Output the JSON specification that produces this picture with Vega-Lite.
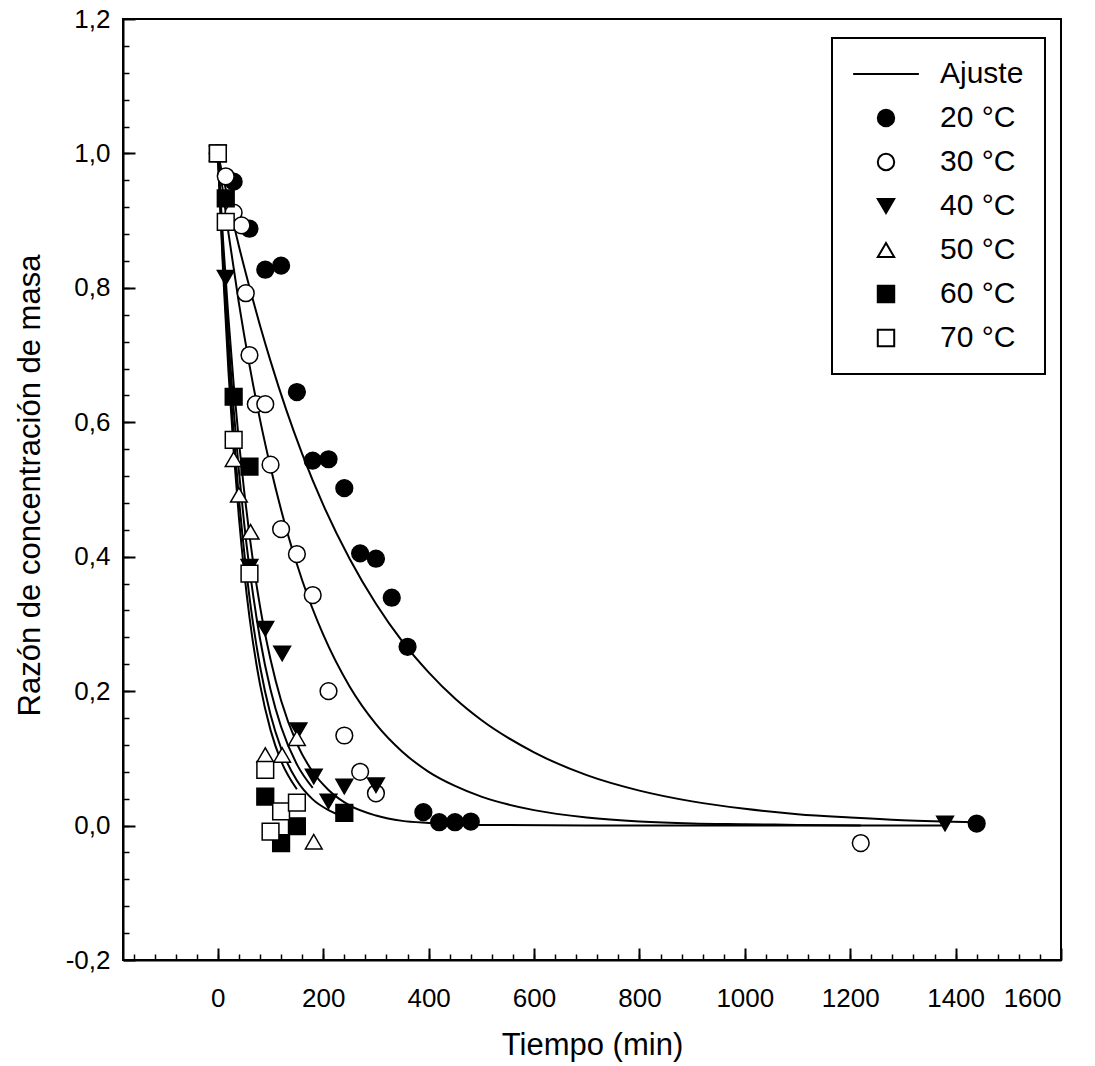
{
  "$schema": "https://vega.github.io/schema/vega-lite/v6.json",
  "width": 938,
  "height": 941,
  "autosize": {"type": "none"},
  "padding": {"left": 123, "top": 19, "right": 34, "bottom": 106},
  "background": "white",
  "config": {
    "locale": {"number": {"decimal": ",", "thousands": ".", "grouping": [3], "currency": ["", ""], "minus": "-"}},
    "view": {"stroke": "black", "strokeWidth": 2},
    "axis": {
      "labelFont": "Liberation Sans",
      "titleFont": "Liberation Sans",
      "labelFontSize": 26,
      "titleFontSize": 31,
      "titleFontWeight": "normal",
      "labelColor": "black",
      "titleColor": "black",
      "tickColor": "black",
      "domainColor": "black",
      "grid": false
    }
  },
  "datasets": {
    "curves": [
      {"curve": "20", "t": 0, "y": 1.0}, {"curve": "20", "t": 20, "y": 0.929}, {"curve": "20", "t": 40, "y": 0.862}, {"curve": "20", "t": 60, "y": 0.801}, {"curve": "20", "t": 80, "y": 0.744}, {"curve": "20", "t": 100, "y": 0.691}, {"curve": "20", "t": 130, "y": 0.618}, {"curve": "20", "t": 160, "y": 0.553}, {"curve": "20", "t": 200, "y": 0.477}, {"curve": "20", "t": 250, "y": 0.397}, {"curve": "20", "t": 300, "y": 0.33}, {"curve": "20", "t": 350, "y": 0.274}, {"curve": "20", "t": 400, "y": 0.228}, {"curve": "20", "t": 450, "y": 0.189}, {"curve": "20", "t": 500, "y": 0.157}, {"curve": "20", "t": 600, "y": 0.109}, {"curve": "20", "t": 700, "y": 0.075}, {"curve": "20", "t": 800, "y": 0.052}, {"curve": "20", "t": 900, "y": 0.036}, {"curve": "20", "t": 1000, "y": 0.025}, {"curve": "20", "t": 1100, "y": 0.017}, {"curve": "20", "t": 1200, "y": 0.012}, {"curve": "20", "t": 1300, "y": 0.008}, {"curve": "20", "t": 1440, "y": 0.005},
      {"curve": "30", "t": 0, "y": 1.0}, {"curve": "30", "t": 20, "y": 0.882}, {"curve": "30", "t": 40, "y": 0.777}, {"curve": "30", "t": 60, "y": 0.685}, {"curve": "30", "t": 80, "y": 0.604}, {"curve": "30", "t": 100, "y": 0.533}, {"curve": "30", "t": 130, "y": 0.441}, {"curve": "30", "t": 160, "y": 0.365}, {"curve": "30", "t": 200, "y": 0.284}, {"curve": "30", "t": 250, "y": 0.207}, {"curve": "30", "t": 300, "y": 0.151}, {"curve": "30", "t": 350, "y": 0.11}, {"curve": "30", "t": 400, "y": 0.08}, {"curve": "30", "t": 450, "y": 0.059}, {"curve": "30", "t": 500, "y": 0.043}, {"curve": "30", "t": 600, "y": 0.023}, {"curve": "30", "t": 700, "y": 0.012}, {"curve": "30", "t": 800, "y": 0.006}, {"curve": "30", "t": 900, "y": 0.003}, {"curve": "30", "t": 1000, "y": 0.002}, {"curve": "30", "t": 1100, "y": 0.001}, {"curve": "30", "t": 1220, "y": 0.0},
      {"curve": "40", "t": 0, "y": 1.0}, {"curve": "40", "t": 10, "y": 0.869}, {"curve": "40", "t": 20, "y": 0.756}, {"curve": "40", "t": 30, "y": 0.657}, {"curve": "40", "t": 40, "y": 0.571}, {"curve": "40", "t": 50, "y": 0.497}, {"curve": "40", "t": 60, "y": 0.432}, {"curve": "40", "t": 80, "y": 0.326}, {"curve": "40", "t": 100, "y": 0.247}, {"curve": "40", "t": 120, "y": 0.186}, {"curve": "40", "t": 150, "y": 0.122}, {"curve": "40", "t": 180, "y": 0.08}, {"curve": "40", "t": 210, "y": 0.053}, {"curve": "40", "t": 250, "y": 0.03}, {"curve": "40", "t": 300, "y": 0.015}, {"curve": "40", "t": 350, "y": 0.007}, {"curve": "40", "t": 400, "y": 0.004}, {"curve": "40", "t": 500, "y": 0.001}, {"curve": "40", "t": 700, "y": 0.0}, {"curve": "40", "t": 1000, "y": 0.0}, {"curve": "40", "t": 1380, "y": 0.0},
      {"curve": "50", "t": 0, "y": 1.0}, {"curve": "50", "t": 10, "y": 0.852}, {"curve": "50", "t": 20, "y": 0.726}, {"curve": "50", "t": 30, "y": 0.619}, {"curve": "50", "t": 40, "y": 0.527}, {"curve": "50", "t": 50, "y": 0.449}, {"curve": "50", "t": 60, "y": 0.383}, {"curve": "50", "t": 80, "y": 0.278}, {"curve": "50", "t": 100, "y": 0.202}, {"curve": "50", "t": 120, "y": 0.147}, {"curve": "50", "t": 150, "y": 0.091}, {"curve": "50", "t": 180, "y": 0.056},
      {"curve": "60", "t": 0, "y": 1.0}, {"curve": "60", "t": 10, "y": 0.835}, {"curve": "60", "t": 20, "y": 0.698}, {"curve": "60", "t": 30, "y": 0.583}, {"curve": "60", "t": 40, "y": 0.487}, {"curve": "60", "t": 50, "y": 0.407}, {"curve": "60", "t": 60, "y": 0.34}, {"curve": "60", "t": 80, "y": 0.237}, {"curve": "60", "t": 100, "y": 0.165}, {"curve": "60", "t": 120, "y": 0.115}, {"curve": "60", "t": 150, "y": 0.067}, {"curve": "60", "t": 180, "y": 0.039}, {"curve": "60", "t": 210, "y": 0.023}, {"curve": "60", "t": 240, "y": 0.013},
      {"curve": "70", "t": 0, "y": 1.0}, {"curve": "70", "t": 10, "y": 0.823}, {"curve": "70", "t": 20, "y": 0.677}, {"curve": "70", "t": 30, "y": 0.557}, {"curve": "70", "t": 40, "y": 0.458}, {"curve": "70", "t": 50, "y": 0.377}, {"curve": "70", "t": 60, "y": 0.31}, {"curve": "70", "t": 80, "y": 0.21}, {"curve": "70", "t": 100, "y": 0.142}, {"curve": "70", "t": 120, "y": 0.096}, {"curve": "70", "t": 150, "y": 0.054}
    ],
    "points": [
      {"series": "20 °C", "t": 0, "y": 1.0}, {"series": "20 °C", "t": 30, "y": 0.958}, {"series": "20 °C", "t": 60, "y": 0.888}, {"series": "20 °C", "t": 90, "y": 0.827}, {"series": "20 °C", "t": 120, "y": 0.833}, {"series": "20 °C", "t": 150, "y": 0.645}, {"series": "20 °C", "t": 180, "y": 0.543}, {"series": "20 °C", "t": 210, "y": 0.545}, {"series": "20 °C", "t": 240, "y": 0.502}, {"series": "20 °C", "t": 270, "y": 0.405}, {"series": "20 °C", "t": 300, "y": 0.397}, {"series": "20 °C", "t": 330, "y": 0.339}, {"series": "20 °C", "t": 360, "y": 0.266}, {"series": "20 °C", "t": 390, "y": 0.02}, {"series": "20 °C", "t": 420, "y": 0.005}, {"series": "20 °C", "t": 450, "y": 0.005}, {"series": "20 °C", "t": 480, "y": 0.006}, {"series": "20 °C", "t": 1440, "y": 0.003},
      {"series": "30 °C", "t": 0, "y": 1.0}, {"series": "30 °C", "t": 15, "y": 0.966}, {"series": "30 °C", "t": 30, "y": 0.912}, {"series": "30 °C", "t": 45, "y": 0.893}, {"series": "30 °C", "t": 53, "y": 0.792}, {"series": "30 °C", "t": 60, "y": 0.7}, {"series": "30 °C", "t": 72, "y": 0.627}, {"series": "30 °C", "t": 90, "y": 0.627}, {"series": "30 °C", "t": 100, "y": 0.537}, {"series": "30 °C", "t": 120, "y": 0.441}, {"series": "30 °C", "t": 150, "y": 0.404}, {"series": "30 °C", "t": 180, "y": 0.343}, {"series": "30 °C", "t": 210, "y": 0.2}, {"series": "30 °C", "t": 240, "y": 0.134}, {"series": "30 °C", "t": 270, "y": 0.08}, {"series": "30 °C", "t": 300, "y": 0.048}, {"series": "30 °C", "t": 1220, "y": -0.026},
      {"series": "40 °C", "t": 0, "y": 1.0}, {"series": "40 °C", "t": 15, "y": 0.815}, {"series": "40 °C", "t": 60, "y": 0.385}, {"series": "40 °C", "t": 90, "y": 0.293}, {"series": "40 °C", "t": 122, "y": 0.256}, {"series": "40 °C", "t": 153, "y": 0.142}, {"series": "40 °C", "t": 182, "y": 0.073}, {"series": "40 °C", "t": 210, "y": 0.036}, {"series": "40 °C", "t": 240, "y": 0.058}, {"series": "40 °C", "t": 300, "y": 0.06}, {"series": "40 °C", "t": 1380, "y": 0.003},
      {"series": "50 °C", "t": 0, "y": 1.0}, {"series": "50 °C", "t": 30, "y": 0.545}, {"series": "50 °C", "t": 40, "y": 0.492}, {"series": "50 °C", "t": 62, "y": 0.437}, {"series": "50 °C", "t": 90, "y": 0.105}, {"series": "50 °C", "t": 122, "y": 0.105}, {"series": "50 °C", "t": 150, "y": 0.13}, {"series": "50 °C", "t": 182, "y": -0.024},
      {"series": "60 °C", "t": 0, "y": 1.0}, {"series": "60 °C", "t": 15, "y": 0.933}, {"series": "60 °C", "t": 30, "y": 0.638}, {"series": "60 °C", "t": 60, "y": 0.534}, {"series": "60 °C", "t": 90, "y": 0.043}, {"series": "60 °C", "t": 120, "y": -0.026}, {"series": "60 °C", "t": 150, "y": -0.001}, {"series": "60 °C", "t": 240, "y": 0.019},
      {"series": "70 °C", "t": 0, "y": 1.0}, {"series": "70 °C", "t": 15, "y": 0.898}, {"series": "70 °C", "t": 30, "y": 0.574}, {"series": "70 °C", "t": 60, "y": 0.375}, {"series": "70 °C", "t": 90, "y": 0.083}, {"series": "70 °C", "t": 100, "y": -0.009}, {"series": "70 °C", "t": 120, "y": 0.021}, {"series": "70 °C", "t": 150, "y": 0.034}
    ]
  },
  "layer": [
    {
      "data": {"name": "curves"},
      "mark": {"type": "line", "color": "black", "strokeWidth": 2, "interpolate": "monotone"},
      "encoding": {
        "x": {
          "field": "t", "type": "quantitative",
          "scale": {"domain": [-180, 1600], "nice": false, "zero": false},
          "axis": {"orient": "bottom", "values": [-160, -120, -80, -40, 0, 40, 80, 120, 160, 200, 240, 280, 320, 360, 400, 440, 480, 520, 560, 600, 640, 680, 720, 760, 800, 840, 880, 920, 960, 1000, 1040, 1080, 1120, 1160, 1200, 1240, 1280, 1320, 1360, 1400, 1440, 1480, 1520, 1560], "tickSize": -6, "tickWidth": 1.5, "labels": false, "domain": false, "title": null}
        },
        "y": {
          "field": "y", "type": "quantitative",
          "scale": {"domain": [-0.2, 1.2], "nice": false, "zero": false},
          "axis": {"orient": "left", "values": [-0.16, -0.12, -0.08, -0.04, 0, 0.04, 0.08, 0.12, 0.16, 0.2, 0.24, 0.28, 0.32, 0.36, 0.4, 0.44, 0.48, 0.52, 0.56, 0.6, 0.64, 0.68, 0.72, 0.76, 0.8, 0.84, 0.88, 0.92, 0.96, 1.0, 1.04, 1.08, 1.12, 1.16], "tickSize": -6, "tickWidth": 1.5, "labels": false, "domain": false, "title": null}
        },
        "detail": {"field": "curve"}
      }
    },
    {
      "data": {"name": "points"},
      "mark": {"type": "point", "size": 280, "stroke": "black", "strokeWidth": 1.5, "opacity": 1},
      "encoding": {
        "x": {
          "field": "t", "type": "quantitative",
          "axis": {"orient": "bottom", "values": [0, 200, 400, 600, 800, 1000, 1200, 1400, 1600], "format": "d", "tickSize": -12, "tickWidth": 2, "labelPadding": 37, "domain": true, "domainWidth": 2, "title": "Tiempo (min)", "titleX": 469, "titleY": 85, "titleBaseline": "middle"}
        },
        "y": {
          "field": "y", "type": "quantitative",
          "axis": {"orient": "left", "values": [-0.2, 0, 0.2, 0.4, 0.6, 0.8, 1.0, 1.2], "format": ".1f", "tickSize": -12, "tickWidth": 2, "labelPadding": 25, "domain": true, "domainWidth": 2, "title": "Razón de concentración de masa", "titleX": -93, "titleY": 466, "titleBaseline": "middle"}
        },
        "shape": {
          "field": "series", "type": "nominal",
          "scale": {"domain": ["Ajuste", "20 °C", "30 °C", "40 °C", "50 °C", "60 °C", "70 °C"], "range": ["M-4,0H4", "circle", "circle", "triangle-down", "triangle-up", "square", "square"]},
          "legend": {"orient": "none", "legendX": 709, "legendY": 19, "title": null, "padding": 21, "symbolSize": 270, "symbolStrokeWidth": 2, "symbolStrokeColor": "black", "symbolOpacity": 1, "symbolOffset": 18, "labelOffset": 39, "labelFont": "Liberation Sans", "labelFontSize": 30, "labelColor": "black", "rowPadding": 14, "strokeColor": "black", "fillColor": "white", "encode": {"legend": {"update": {"strokeWidth": {"value": 2}}}}}
        },
        "fill": {
          "field": "series", "type": "nominal",
          "scale": {"domain": ["Ajuste", "20 °C", "30 °C", "40 °C", "50 °C", "60 °C", "70 °C"], "range": ["white", "black", "white", "black", "white", "black", "white"]},
          "legend": {"orient": "none", "legendX": 709, "legendY": 19, "title": null, "padding": 21, "symbolSize": 270, "symbolStrokeWidth": 2, "symbolStrokeColor": "black", "symbolOpacity": 1, "symbolOffset": 18, "labelOffset": 39, "labelFont": "Liberation Sans", "labelFontSize": 30, "labelColor": "black", "rowPadding": 14, "strokeColor": "black", "fillColor": "white", "encode": {"legend": {"update": {"strokeWidth": {"value": 2}}}}}
        }
      }
    }
  ],
  "resolve": {"axis": {"x": "independent", "y": "independent"}}
}
